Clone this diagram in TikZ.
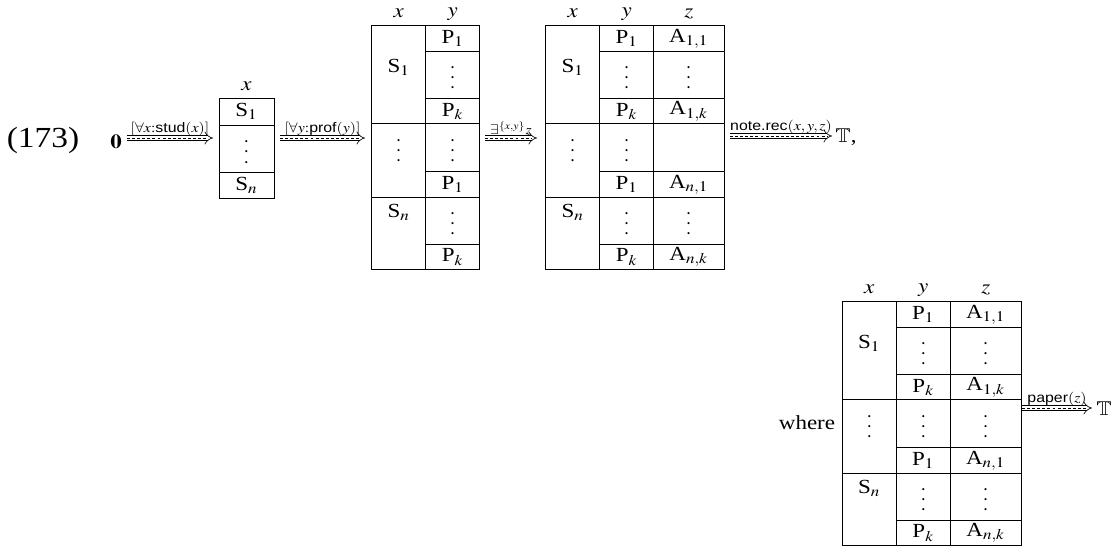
\documentclass[tikz,border=0pt]{standalone}
\usepackage{mathptmx}
\usepackage{amssymb}
\usepackage{fontspec}
\setmainfont{Liberation Serif}
\setsansfont{Liberation Sans}
\usetikzlibrary{arrows.meta, calc, positioning}

% three stacked dots, without the top kern of \vdots
\newcommand{\vdts}{\vbox{\fontsize{4.8}{5.6}\selectfont\baselineskip=5.6pt\lineskiplimit=0pt
  \hbox{\textbullet}\hbox{\textbullet}\hbox{\textbullet}}}

% x and y columns of a record table: #1 name, #2 left, #3 top
\newcommand{\xytable}[3]{%
  \begin{scope}[shift={(#2,#3)}]
    \draw[grid] (0,0) rectangle (108,243.5);
    \draw[grid] (54,0) -- (54,243.5);
    \draw[grid] (0,98) -- (108,98) (0,172) -- (108,172);
    \draw[grid] (54,26) -- (108,26) (54,73) -- (108,73)
                (54,146) -- (108,146) (54,219) -- (108,219);
    \node[head] (#1hx) at (27,-12) {$x$};
    \node[head] (#1hy) at (81,-12) {$y$};
    \node[entry] (#1s1) at (27,42) {S$_1$};
    \node[dots] (#1xd) at (27,126) {\vdts};
    \node[entry] (#1sn) at (27,187) {S$_n$};
    \node[entry] (#1p1) at (81,13) {P$_1$};
    \node[dots] (#1d1) at (81,53) {\vdts};
    \node[entry] (#1pk) at (81,85.5) {P$_k$};
    \node[dots] (#1yd) at (81,126) {\vdts};
    \node[entry] (#1q1) at (81,159) {P$_1$};
    \node[dots] (#1d2) at (81,199) {\vdts};
    \node[entry] (#1qk) at (81,231.25) {P$_k$};
  \end{scope}}

% z column: #1 name, #2 left, #3 top, #4 middle entry
\newcommand{\ztable}[4]{%
  \begin{scope}[shift={(#2,#3)}]
    \draw[grid] (0,0) rectangle (70.5,243.5);
    \draw[grid] (0,26) -- (70.5,26) (0,73) -- (70.5,73) (0,98) -- (70.5,98)
                (0,146) -- (70.5,146) (0,172) -- (70.5,172) (0,219) -- (70.5,219);
    \node[head] (#1hz) at (35.25,-12) {$z$};
    \node[entry] (#1a11) at (35.25,13) {A$_{1,1}$};
    \node[dots] (#1z1) at (35.25,53) {\vdts};
    \node[entry] (#1a1k) at (35.25,85.5) {A$_{1,k}$};
    \node[dots] (#1zd) at (35.25,126) {#4};
    \node[entry] (#1an1) at (35.25,159) {A$_{n,1}$};
    \node[dots] (#1z2) at (35.25,199) {\vdts};
    \node[entry] (#1ank) at (35.25,231.25) {A$_{n,k}$};
  \end{scope}}

% update arrow: #1 from, #2 to, #3 label
\newcommand{\updarrow}[3]{%
  \draw[dblarrow] (#1) -- node[arrlabel] {#3} (#2);
  \draw[midline] (#1) -- ($(#2)+(-5,0)$);}

\begin{document}
\begin{tikzpicture}[
    x=0.55pt, y=-0.55pt,
    grid/.style={line width=0.4pt},
    wide/.style={xscale=1.15},
    head/.style={wide, inner sep=0pt, font=\fontsize{11}{13}\selectfont},
    entry/.style={wide, inner sep=0pt, font=\fontsize{11}{13}\selectfont},
    dots/.style={inner sep=0pt},
    dblarrow/.style={double, double distance=2.2pt, line width=0.35pt, -{Implies}},
    midline/.style={line width=0.3pt, dash pattern=on 1.6pt off 1.2pt},
    arrlabel/.style={wide, above, inner sep=1.2pt, font=\fontsize{7.6}{9}\selectfont}
  ]
  \useasboundingbox (0,0) rectangle (1114,552);

  \node[wide, font=\fontsize{16}{19}\selectfont] (num) at (43,140) {(173)};
  \node[entry] (zero) at (116,142) {$\mathbf{0}$};

  % first table, x only
  \draw[grid] (219,98) rectangle (274,198);
  \draw[grid] (219,125) -- (274,125) (219,172) -- (274,172);
  \node[head] (t1hx) at (246.5,86) {$x$};
  \node[entry] (t1s1) at (246.5,111.5) {S$_1$};
  \node[dots] (t1d) at (246.5,153) {\vdts};
  \node[entry] (t1sn) at (246.5,185) {S$_n$};

  % second table, x and y
  \xytable{t2}{371.7}{25.7}

  % third table, x, y and z
  \xytable{t3}{545.7}{25.7}
  \ztable{t3}{653.5}{25.7}{}

  % table after where
  \node[entry] (where) at (807,423) {where};
  \xytable{t4}{842.3}{301.7}
  \ztable{t4}{950.5}{301.7}{\vdts}

  \node[entry] (tt1) at (846,137) {$\mathbb{T}$,};
  \node[entry] (tt2) at (1104,409) {$\mathbb{T}$};

  % arrow ends
  \coordinate (a1s) at (127,138);  \coordinate (a1e) at (213,138);
  \coordinate (a2s) at (280,138);  \coordinate (a2e) at (365,138);
  \coordinate (a3s) at (485,138);  \coordinate (a3e) at (537,138);
  \coordinate (a4s) at (730,136);  \coordinate (a4e) at (832,136);
  \coordinate (a5s) at (1022,408); \coordinate (a5e) at (1092,408);

  \updarrow{a1s}{a1e}{$[\forall x{:}\textsf{stud}(x)]$}
  \updarrow{a2s}{a2e}{$[\forall y{:}\textsf{prof}(y)]$}
  \updarrow{a3s}{a3e}{$\exists^{\{x,y\}}z$}
  \updarrow{a4s}{a4e}{\textsf{note.rec}$(x,y,z)$}
  \updarrow{a5s}{a5e}{\textsf{paper}$(z)$}
\end{tikzpicture}
\end{document}
